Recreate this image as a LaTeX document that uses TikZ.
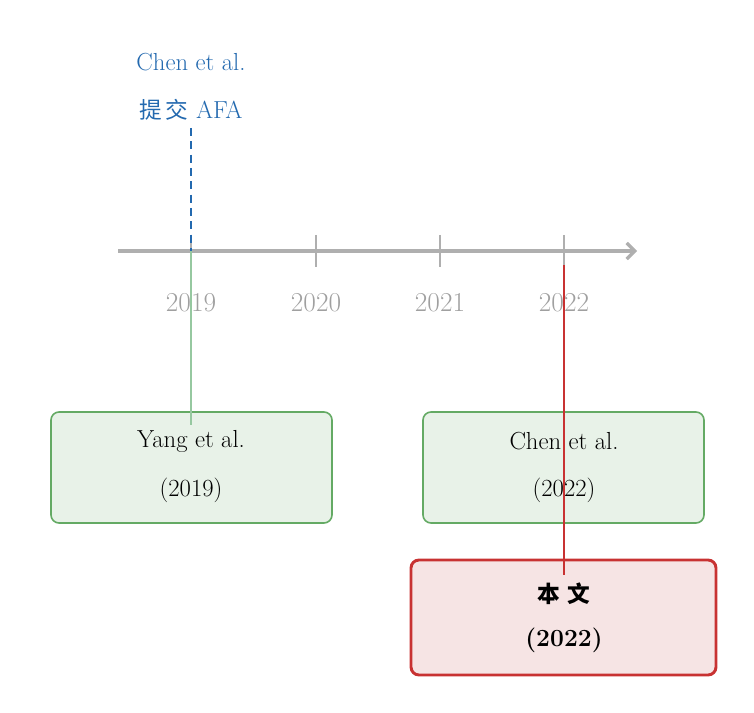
\documentclass[tikz,border=0pt]{standalone}
\usepackage{fontspec}
\usetikzlibrary{arrows.meta}
\newfontfamily\cjk{Noto Sans CJK SC}
\definecolor{axisgray}{RGB}{175,175,175}
\definecolor{yeargray}{RGB}{160,160,160}
\definecolor{cblue}{RGB}{35,105,175}
\definecolor{gline}{RGB}{150,200,160}
\definecolor{gdraw}{RGB}{100,170,100}
\definecolor{gfill}{RGB}{232,242,232}
\definecolor{rdraw}{RGB}{200,50,50}
\definecolor{rfill}{RGB}{246,228,228}
\begin{document}
\begin{tikzpicture}[x=0.75pt,y=-0.75pt,
  gbox/.style={draw=gdraw,fill=gfill,rounded corners=6pt,line width=1.2pt},
  rbox/.style={draw=rdraw,fill=rfill,rounded corners=6pt,line width=2.2pt},
  txt/.style={font=\fontsize{18.5}{22}\selectfont,align=center},
  yr/.style={font=\fontsize{20.5}{22}\selectfont,text=yeargray}]
\useasboundingbox (0,0) rectangle (754,713);
\draw[gbox] (51,412) rectangle (332,523);
\draw[gbox] (423,412) rectangle (704,523);
\draw[rbox] (411,560) rectangle (716,675);
\coordinate (a0) at (118,251);
\coordinate (a1) at (637,251);
\draw[axisgray,line width=2.4pt,-{Straight Barb[length=6pt,width=12pt]}] (a0) -- (a1);
\foreach \x/\y in {191/2019,316/2020,440/2021,564/2022}{
  \draw[axisgray,line width=1pt] (\x,235) -- (\x,267);
  \node[yr] (y\y) at (\x,303) {\y};
}
\node[txt,text=cblue] (c1) at (191,62) {Chen et al.};
\node[txt,text=cblue] (c2) at (191,110) {{\cjk\fontsize{17}{20}\selectfont 提\,交} AFA};
\coordinate (d0) at (191,128);
\coordinate (d1) at (191,251);
\draw[cblue,dash pattern=on 6pt off 4pt,line width=0.8pt] (d0) -- (d1);
\coordinate (g1) at (191,425);
\draw[gline,line width=1pt] (d1) -- (g1);
\node[txt] (ya1) at (191,441) {Yang et al.};
\node[txt] (ya2) at (191,490) {(2019)};
\node[txt] (ch1) at (564,441) {Chen et al.};
\node[txt] (ch2) at (564,490) {(2022)};
\node[txt] (b1) at (564,594) {\bfseries\cjk\fontsize{17}{20}\selectfont 本\,\,文};
\node[txt] (b2) at (564,640) {\bfseries (2022)};
\coordinate (r0) at (564,265);
\coordinate (r1) at (564,575);
\draw[rdraw,line width=1pt] (r0) -- (r1);
\end{tikzpicture}
\end{document}
